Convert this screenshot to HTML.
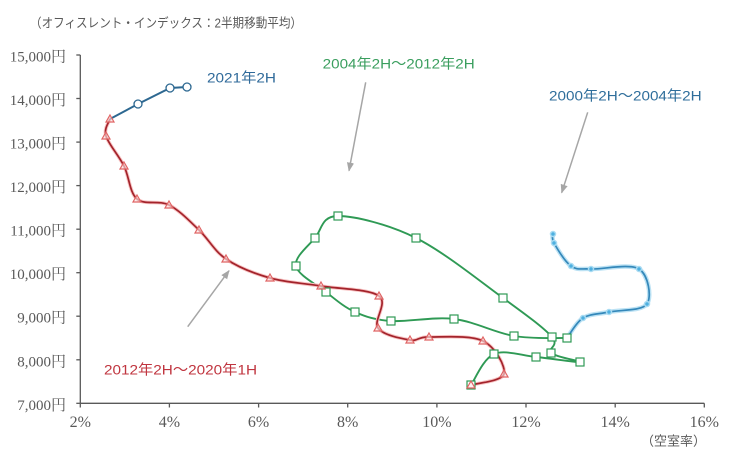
<!DOCTYPE html>
<html>
<head>
<meta charset="utf-8">
<style>
  html, body { margin:0; padding:0; background:#ffffff; }
  svg { display:block; }
  .ylab { font-family:"Liberation Serif","Noto Serif CJK SC","Noto Sans CJK JP",serif; font-size:15px; fill:#595959; }
  .xlab { font-family:"Liberation Serif",serif; font-size:16px; fill:#595959; }
  .jp { font-family:"Liberation Sans","Noto Sans CJK JP",sans-serif; }
</style>
</head>
<body>
<svg width="731" height="461" viewBox="0 0 731 461" xmlns="http://www.w3.org/2000/svg">
  <defs>
    <marker id="ah" viewBox="0 0 10 10" refX="9" refY="5" markerWidth="6" markerHeight="6" orient="auto">
      <path d="M0,1 L10,5 L0,9 z" fill="#A6A6A6"/>
    </marker>
  </defs>
  <rect width="731" height="461" fill="#ffffff"/>

  <!-- title -->
  <text class="jp" x="30" y="27.5" font-size="13" fill="#595959" textLength="272" lengthAdjust="spacingAndGlyphs">（オフィスレント・インデックス：2半期移動平均）</text>

  <!-- axes -->
  <g stroke="#595959" stroke-width="1.3" fill="none">
    <line x1="80.3" y1="55" x2="80.3" y2="403.3"/>
    <line x1="80.3" y1="403.3" x2="704.3" y2="403.3"/>
    <line x1="76.3" y1="55" x2="80.3" y2="55"/>
    <line x1="76.3" y1="98.5" x2="80.3" y2="98.5"/>
    <line x1="76.3" y1="142.1" x2="80.3" y2="142.1"/>
    <line x1="76.3" y1="185.6" x2="80.3" y2="185.6"/>
    <line x1="76.3" y1="229.2" x2="80.3" y2="229.2"/>
    <line x1="76.3" y1="272.7" x2="80.3" y2="272.7"/>
    <line x1="76.3" y1="316.2" x2="80.3" y2="316.2"/>
    <line x1="76.3" y1="359.8" x2="80.3" y2="359.8"/>
    <line x1="76.3" y1="403.3" x2="80.3" y2="403.3"/>
    <line x1="80.3" y1="403.3" x2="80.3" y2="407.5"/>
    <line x1="169.4" y1="403.3" x2="169.4" y2="407.5"/>
    <line x1="258.6" y1="403.3" x2="258.6" y2="407.5"/>
    <line x1="347.7" y1="403.3" x2="347.7" y2="407.5"/>
    <line x1="436.9" y1="403.3" x2="436.9" y2="407.5"/>
    <line x1="526.0" y1="403.3" x2="526.0" y2="407.5"/>
    <line x1="615.2" y1="403.3" x2="615.2" y2="407.5"/>
    <line x1="704.3" y1="403.3" x2="704.3" y2="407.5"/>
  </g>

  <!-- y labels -->
  <g class="ylab" text-anchor="end">
    <text x="66" y="61.5">15,000円</text>
    <text x="66" y="105">14,000円</text>
    <text x="66" y="148.6">13,000円</text>
    <text x="66" y="192.1">12,000円</text>
    <text x="66" y="235.7">11,000円</text>
    <text x="66" y="279.2">10,000円</text>
    <text x="66" y="322.7">9,000円</text>
    <text x="66" y="366.3">8,000円</text>
    <text x="66" y="409.8">7,000円</text>
  </g>

  <!-- x labels -->
  <g class="xlab" text-anchor="middle">
    <text x="80.3" y="427">2%</text>
    <text x="169.4" y="427">4%</text>
    <text x="258.6" y="427">6%</text>
    <text x="347.7" y="427">8%</text>
    <text x="436.9" y="427">10%</text>
    <text x="526.0" y="427">12%</text>
    <text x="615.2" y="427">14%</text>
    <text x="704.3" y="427">16%</text>
  </g>
  <text class="jp" x="673.5" y="445.5" font-size="13" fill="#595959" text-anchor="middle">（空室率）</text>

  <!-- arrows -->
  <g stroke="#A6A6A6" stroke-width="1.5" fill="none">
    <line x1="365.7" y1="82.3" x2="349" y2="170.7" marker-end="url(#ah)"/>
    <line x1="587.7" y1="112.3" x2="561.7" y2="192.7" marker-end="url(#ah)"/>
    <line x1="187.7" y1="326.7" x2="229" y2="270.7" marker-end="url(#ah)"/>
  </g>

  <!-- cyan series 2000-2004 -->
  <path d="M553,234 C553.2,235.5 551,237.7 554,243 C557,248.3 564.8,261.7 571,266 C577.2,270.3 579.7,268.5 591,269 C602.3,269.5 629.7,263.2 639,269 C648.3,274.8 652,296.8 647,304 C642,311.2 619.7,309.7 609,312 C598.3,314.3 590,313.7 583,318 C576,322.3 569.7,334.7 567,338"
        fill="none" stroke="#BCE2F4" stroke-width="4.5" stroke-linecap="round" stroke-linejoin="round"/>
  <path d="M553,234 C553.2,235.5 551,237.7 554,243 C557,248.3 564.8,261.7 571,266 C577.2,270.3 579.7,268.5 591,269 C602.3,269.5 629.7,263.2 639,269 C648.3,274.8 652,296.8 647,304 C642,311.2 619.7,309.7 609,312 C598.3,314.3 590,313.7 583,318 C576,322.3 569.7,334.7 567,338"
        fill="none" stroke="#3488BA" stroke-width="1.7"/>
  <g fill="#4EB0E0" stroke="#A9DBF2" stroke-width="1.5">
    <circle cx="553" cy="234" r="2.5"/>
    <circle cx="554" cy="243" r="2.5"/>
    <circle cx="571" cy="266" r="2.5"/>
    <circle cx="591" cy="269" r="2.5"/>
    <circle cx="639" cy="269" r="2.5"/>
    <circle cx="647" cy="304" r="2.5"/>
    <circle cx="609" cy="312" r="2.5"/>
    <circle cx="583" cy="318" r="2.5"/>
  </g>

  <!-- green series 2004-2012 -->
  <path d="M567,338 C558.2,337.7 532.8,339.2 514,336 C495.2,332.8 474.5,321.5 454,319 C433.5,316.5 407.5,322.2 391,321 C374.5,319.8 365.8,316.8 355,312 C344.2,307.2 335.8,299.7 326,292 C316.2,284.3 297.8,275 296,266 C294.2,257 308,246.3 315,238 C322,229.7 321.2,216 338,216 C354.8,216 388.5,224.3 416,238 C443.5,251.7 480.3,281.5 503,298 C525.7,314.5 544,327.8 552,337 C560,346.2 546.3,348.8 551,353 C555.7,357.2 582.5,361.3 580,362 C577.5,362.7 550.3,358.3 536,357 C521.7,355.7 504.8,349.3 494,354 C483.2,358.7 474.8,379.8 471,385"
        fill="none" stroke="#2F9A55" stroke-width="1.9"/>

  <!-- red series 2012-2020 -->
  <path d="M471,385 C476.5,383.2 502,381.3 504,374 C506,366.7 495.5,347.2 483,341 C470.5,334.8 441.2,337.2 429,337 C416.8,336.8 418.5,341.5 410,340 C401.5,338.5 383.2,335.3 378,328 C372.8,320.7 388.5,303 379,296 C369.5,289 339.2,289 321,286 C302.8,283 285.8,282.5 270,278 C254.2,273.5 237.8,267 226,259 C214.2,251 208.5,239 199,230 C189.5,221 179.3,210.2 169,205 C158.7,199.8 144.5,205.5 137,199 C129.5,192.5 129.2,176.5 124,166 C118.8,155.5 108.3,143.8 106,136 C103.7,128.2 109.3,121.8 110,119"
        fill="none" stroke="#F8C4C4" stroke-width="3.6" stroke-linecap="round" stroke-linejoin="round"/>
  <path d="M471,385 C476.5,383.2 502,381.3 504,374 C506,366.7 495.5,347.2 483,341 C470.5,334.8 441.2,337.2 429,337 C416.8,336.8 418.5,341.5 410,340 C401.5,338.5 383.2,335.3 378,328 C372.8,320.7 388.5,303 379,296 C369.5,289 339.2,289 321,286 C302.8,283 285.8,282.5 270,278 C254.2,273.5 237.8,267 226,259 C214.2,251 208.5,239 199,230 C189.5,221 179.3,210.2 169,205 C158.7,199.8 144.5,205.5 137,199 C129.5,192.5 129.2,176.5 124,166 C118.8,155.5 108.3,143.8 106,136 C103.7,128.2 109.3,121.8 110,119"
        fill="none" stroke="#A3232B" stroke-width="1.7"/>

  <!-- blue series 2021 -->
  <polyline points="110,119 138,104 170,88 187,87" fill="none" stroke="#2D6891" stroke-width="2"/>

  <!-- green markers -->
  <g fill="#ffffff" stroke="#2F9A55" stroke-width="1.2">
    <rect x="563" y="334" width="8" height="8"/>
    <rect x="510" y="332" width="8" height="8"/>
    <rect x="450" y="315" width="8" height="8"/>
    <rect x="387" y="317" width="8" height="8"/>
    <rect x="351" y="308" width="8" height="8"/>
    <rect x="322" y="288" width="8" height="8"/>
    <rect x="292" y="262" width="8" height="8"/>
    <rect x="311" y="234" width="8" height="8"/>
    <rect x="334" y="212" width="8" height="8"/>
    <rect x="412" y="234" width="8" height="8"/>
    <rect x="499" y="294" width="8" height="8"/>
    <rect x="548" y="333" width="8" height="8"/>
    <rect x="547" y="349" width="8" height="8"/>
    <rect x="576" y="358" width="8" height="8"/>
    <rect x="532" y="353" width="8" height="8"/>
    <rect x="490" y="350" width="8" height="8"/>
    <rect x="467" y="381" width="8" height="8"/>
  </g>

  <!-- red markers (triangles) -->
  <g fill="#FDEAEA" fill-opacity="0.6" stroke="#E06464" stroke-width="1.2">
    <polygon points="471,381 475,388 467,388"/>
    <polygon points="504,370 508,377 500,377"/>
    <polygon points="483,337 487,344 479,344"/>
    <polygon points="429,333 433,340 425,340"/>
    <polygon points="410,336 414,343 406,343"/>
    <polygon points="378,324 382,331 374,331"/>
    <polygon points="379,292 383,299 375,299"/>
    <polygon points="321,282 325,289 317,289"/>
    <polygon points="270,274 274,281 266,281"/>
    <polygon points="226,255 230,262 222,262"/>
    <polygon points="199,226 203,233 195,233"/>
    <polygon points="169,201 173,208 165,208"/>
    <polygon points="137,195 141,202 133,202"/>
    <polygon points="124,162 128,169 120,169"/>
    <polygon points="106,132 110,139 102,139"/>
    <polygon points="110,115 114,122 106,122"/>
  </g>

  <!-- blue circles -->
  <g fill="#ffffff" stroke="#2D6891" stroke-width="1.3">
    <circle cx="138" cy="104" r="4"/>
    <circle cx="170" cy="88" r="4"/>
    <circle cx="187" cy="87" r="4"/>
  </g>

  <!-- series labels -->
  <text class="jp" x="207" y="82.5" font-size="14" fill="#2F6A9A" textLength="69" lengthAdjust="spacingAndGlyphs">2021年2H</text>
  <text class="jp" x="322.7" y="68.7" font-size="14" fill="#3A9E5E" textLength="152" lengthAdjust="spacingAndGlyphs">2004年2H～2012年2H</text>
  <text class="jp" x="549" y="100.3" font-size="14" fill="#2F6E9B" textLength="152.7" lengthAdjust="spacingAndGlyphs">2000年2H～2004年2H</text>
  <text class="jp" x="104" y="374.7" font-size="14" fill="#C0353F" textLength="153" lengthAdjust="spacingAndGlyphs">2012年2H～2020年1H</text>
</svg>
</body>
</html>
